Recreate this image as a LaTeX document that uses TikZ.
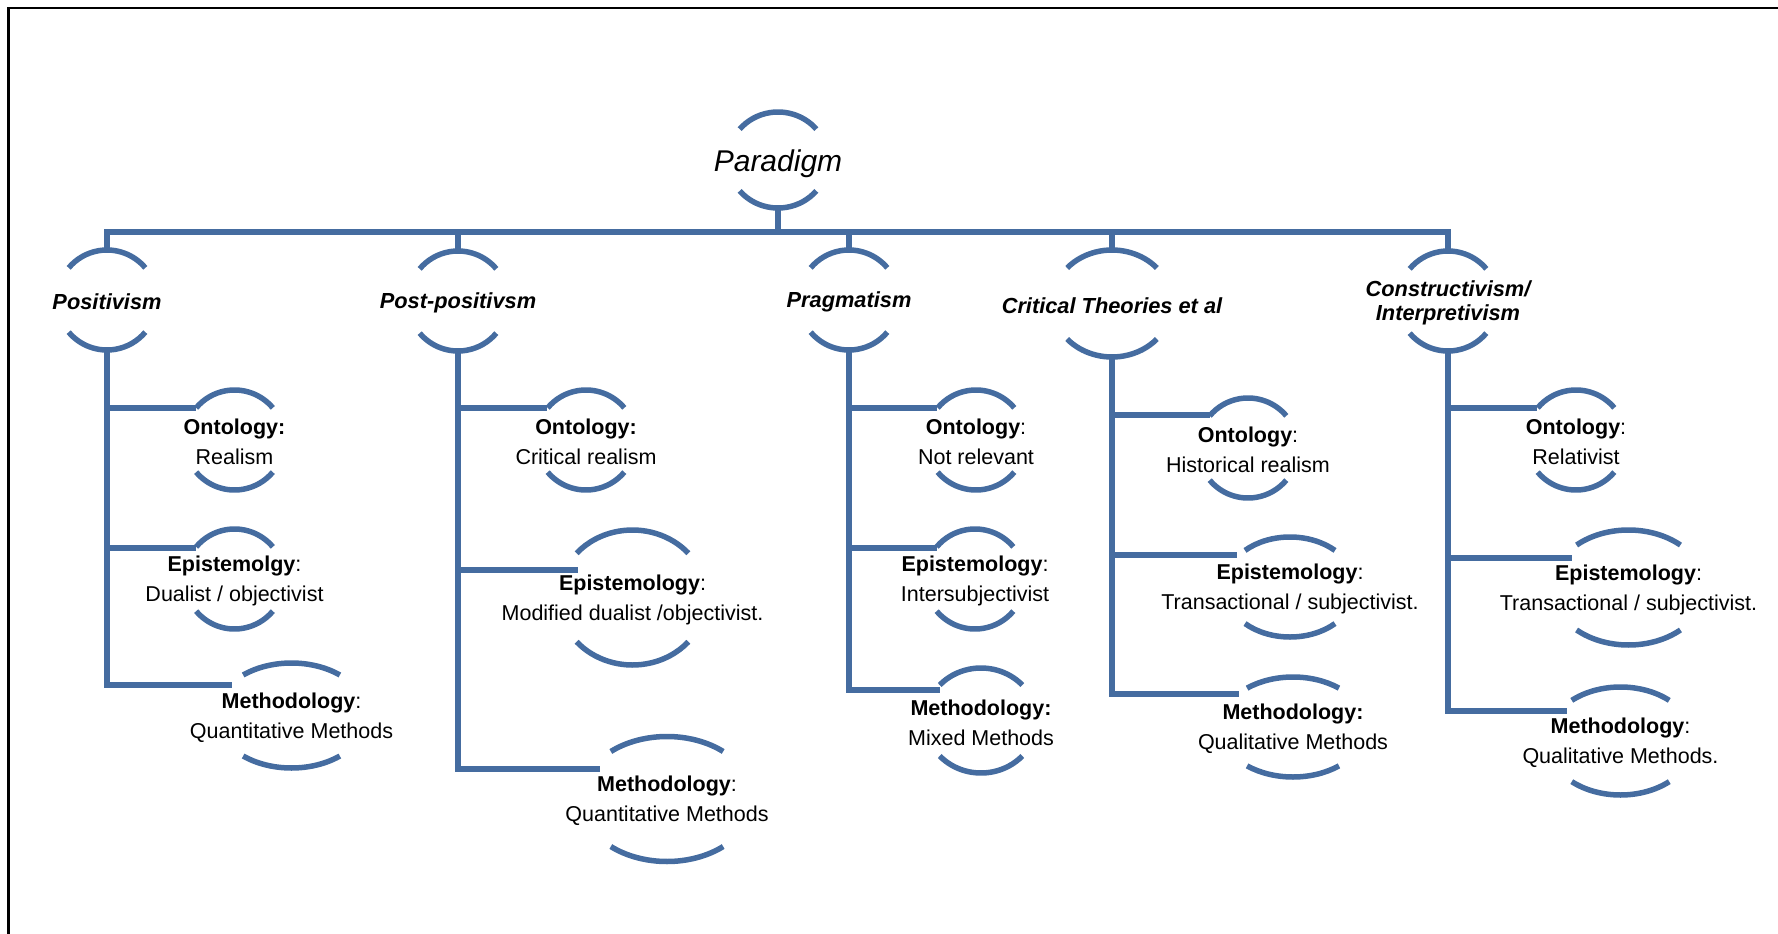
\documentclass[tikz,border=0pt]{standalone}
\usepackage{fontspec}
\setmainfont{Liberation Sans}
\usetikzlibrary{calc,shapes.geometric}
\definecolor{treeblue}{RGB}{69,108,160}

\tikzset{
  conn/.style={draw=treeblue, line width=5.5pt},
  arcline/.style={draw=treeblue, line width=5.5pt, line cap=butt},
  shp/.style={ellipse, draw=none, inner sep=0pt, outer sep=0pt},
  topfont/.style={font=\fontsize{30}{34}\selectfont\itshape, inner sep=0pt, yshift=-4pt},
  lvlone/.style={font=\fontsize{21.8}{24}\selectfont\bfseries\itshape, align=center, inner sep=0pt, yshift=-2pt},
  lvltwo/.style={font=\fontsize{21.5}{30}\selectfont, align=center, inner sep=0pt, yshift=-2pt},
}

% two open arcs (upper and lower) around the centre of a node
% #1 node, #2 x radius, #3 y radius, #4 angle where the upper arc starts
\newcommand\halfrings[4]{%
  \draw[arcline] ($(#1.center)+(#4:#2pt and #3pt)$)
    arc[start angle=#4, end angle={180-#4}, x radius=#2pt, y radius=#3pt];
  \draw[arcline] ($(#1.center)+({180+#4}:#2pt and #3pt)$)
    arc[start angle={180+#4}, end angle={360-#4}, x radius=#2pt, y radius=#3pt];
}

% ring shape: #1 name, #2 position, #3 x radius, #4 y radius
\newcommand\ringshape[4]{%
  \node[shp, minimum width={2*#3pt}, minimum height={2*#4pt}] (#1) at #2 {};
}

\begin{document}
\begin{tikzpicture}[x=1pt, y=1pt]
\useasboundingbox (0,0) rectangle (1778,-934);

% frame
\draw[black, line width=2.7pt] (8.5,-950) -- (8.5,-8) -- (1800,-8);

% root
\ringshape{par}{(778,-160)}{50}{48}
\node[topfont] (par-t) at (par.center) {Paradigm};
\halfrings{par}{50}{48}{40}

% paradigms
\ringshape{pos}{(107,-300)}{50}{50}
\node[lvlone] (pos-t) at (pos.center) {Positivism};
\halfrings{pos}{50}{50}{40}

\ringshape{pp}{(458,-301)}{50}{50}
\node[lvlone] (pp-t) at (pp.center) {Post-positivsm};
\halfrings{pp}{50}{50}{40}

\ringshape{prag}{(849,-300)}{50}{50}
\node[lvlone] (prag-t) at (prag.center) {Pragmatism};
\halfrings{prag}{50}{50}{40}

\ringshape{crit}{(1112,-303.5)}{60}{53.5}
\node[lvlone] (crit-t) at (crit.center) {Critical Theories et al};
\halfrings{crit}{60}{53.5}{41.6}

\ringshape{con}{(1448,-301)}{50}{50}
\node[lvlone] (con-t) at (con.center) {Constructivism/\\Interpretivism};
\halfrings{con}{50}{50}{40}

% bus from the root to the paradigms
\coordinate (bus) at (0,-232);
\draw[conn] (pos.north) -- (pos.north |- bus) -- (con.north |- bus) -- (con.north);
\draw[conn] (par.south) -- (par.south |- bus);
\draw[conn] (pp.north) -- (pp.north |- bus);
\draw[conn] (prag.north) -- (prag.north |- bus);
\draw[conn] (crit.north) -- (crit.north |- bus);

% Positivism
\ringshape{posO}{(234.5,-440)}{50}{50}
\node[lvltwo] (posO-t) at (posO.center) {\textbf{Ontology:}\\Realism};
\halfrings{posO}{50}{50}{40}
\ringshape{posE}{(234.5,-579)}{50}{50}
\node[lvltwo] (posE-t) at (posE.center) {\textbf{Epistemolgy}:\\Dualist / objectivist};
\halfrings{posE}{50}{50}{40}
\ringshape{posM}{(291.5,-715.5)}{76}{52.5}
\node[lvltwo] (posM-t) at (posM.center) {\textbf{Methodology}:\\Quantitative Methods};
\halfrings{posM}{76}{52.5}{50.5}
\coordinate (posO-in) at (196,-408);
\coordinate (posE-in) at (196,-548);
\coordinate (posM-in) at (232,-685);
\draw[conn] (pos.south) |- (posO-in);
\draw[conn] (pos.south) |- (posE-in);
\draw[conn] (pos.south) |- (posM-in);

% Post-positivism
\ringshape{ppO}{(586,-440)}{50}{50}
\node[lvltwo] (ppO-t) at (ppO.center) {\textbf{Ontology:}\\Critical realism};
\halfrings{ppO}{50}{50}{40}
\ringshape{ppE}{(632.5,-597.5)}{74}{67.5}
\node[lvltwo] (ppE-t) at (ppE.center) {\textbf{Epistemology}:\\Modified dualist /objectivist.};
\halfrings{ppE}{74}{67.5}{41}
\ringshape{ppM}{(667,-799)}{86.5}{62.5}
\node[lvltwo] (ppM-t) at (ppM.center) {\textbf{Methodology}:\\Quantitative Methods};
\halfrings{ppM}{86.5}{62.5}{49.5}
\coordinate (ppO-in) at (547,-408);
\coordinate (ppE-in) at (578,-570);
\coordinate (ppM-in) at (600,-769);
\draw[conn] (pp.south) |- (ppO-in);
\draw[conn] (pp.south) |- (ppE-in);
\draw[conn] (pp.south) |- (ppM-in);

% Pragmatism
\ringshape{prO}{(976,-440)}{50}{50}
\node[lvltwo] (prO-t) at (prO.center) {\textbf{Ontology}:\\Not relevant};
\halfrings{prO}{50}{50}{40}
\ringshape{prE}{(975,-579)}{50}{50}
\node[lvltwo] (prE-t) at (prE.center) {\textbf{Epistemology}:\\Intersubjectivist};
\halfrings{prE}{50}{50}{40}
\ringshape{prM}{(981,-720.5)}{56}{52.5}
\node[lvltwo] (prM-t) at (prM.center) {\textbf{Methodology:}\\Mixed Methods};
\halfrings{prM}{56}{52.5}{42.5}
\coordinate (prO-in) at (937,-408);
\coordinate (prE-in) at (937,-548);
\coordinate (prM-in) at (940,-690);
\draw[conn] (prag.south) |- (prO-in);
\draw[conn] (prag.south) |- (prE-in);
\draw[conn] (prag.south) |- (prM-in);

% Critical theories
\ringshape{crO}{(1248,-448)}{50}{50}
\node[lvltwo] (crO-t) at (crO.center) {\textbf{Ontology}:\\Historical realism};
\halfrings{crO}{50}{50}{40}
\ringshape{crE}{(1290,-587)}{66}{50}
\node[lvltwo] (crE-t) at (crE.center) {\textbf{Epistemology}:\\Transactional / subjectivist.};
\halfrings{crE}{66}{50}{47}
\ringshape{crM}{(1293,-727)}{73}{50}
\node[lvltwo] (crM-t) at (crM.center) {\textbf{Methodology:}\\Qualitative Methods};
\halfrings{crM}{73}{50}{51}
\coordinate (crO-in) at (1210,-415);
\coordinate (crE-in) at (1237,-555);
\coordinate (crM-in) at (1239,-694);
\draw[conn] (crit.south) |- (crO-in);
\draw[conn] (crit.south) |- (crE-in);
\draw[conn] (crit.south) |- (crM-in);

% Constructivism / interpretivism
\ringshape{coO}{(1576,-440)}{50}{50}
\node[lvltwo] (coO-t) at (coO.center) {\textbf{Ontology}:\\Relativist};
\halfrings{coO}{50}{50}{40}
\ringshape{coE}{(1628.5,-587.5)}{77}{57.5}
\node[lvltwo] (coE-t) at (coE.center) {\textbf{Epistemology}:\\Transactional / subjectivist.};
\halfrings{coE}{77}{57.5}{47.6}
\ringshape{coM}{(1620.5,-741)}{74}{54}
\node[lvltwo] (coM-t) at (coM.center) {\textbf{Methodology}:\\Qualitative Methods.};
\halfrings{coM}{74}{54}{48.8}
\coordinate (coO-in) at (1537,-408);
\coordinate (coE-in) at (1572,-558);
\coordinate (coM-in) at (1567,-711);
\draw[conn] (con.south) |- (coO-in);
\draw[conn] (con.south) |- (coE-in);
\draw[conn] (con.south) |- (coM-in);
\end{tikzpicture}
\end{document}
